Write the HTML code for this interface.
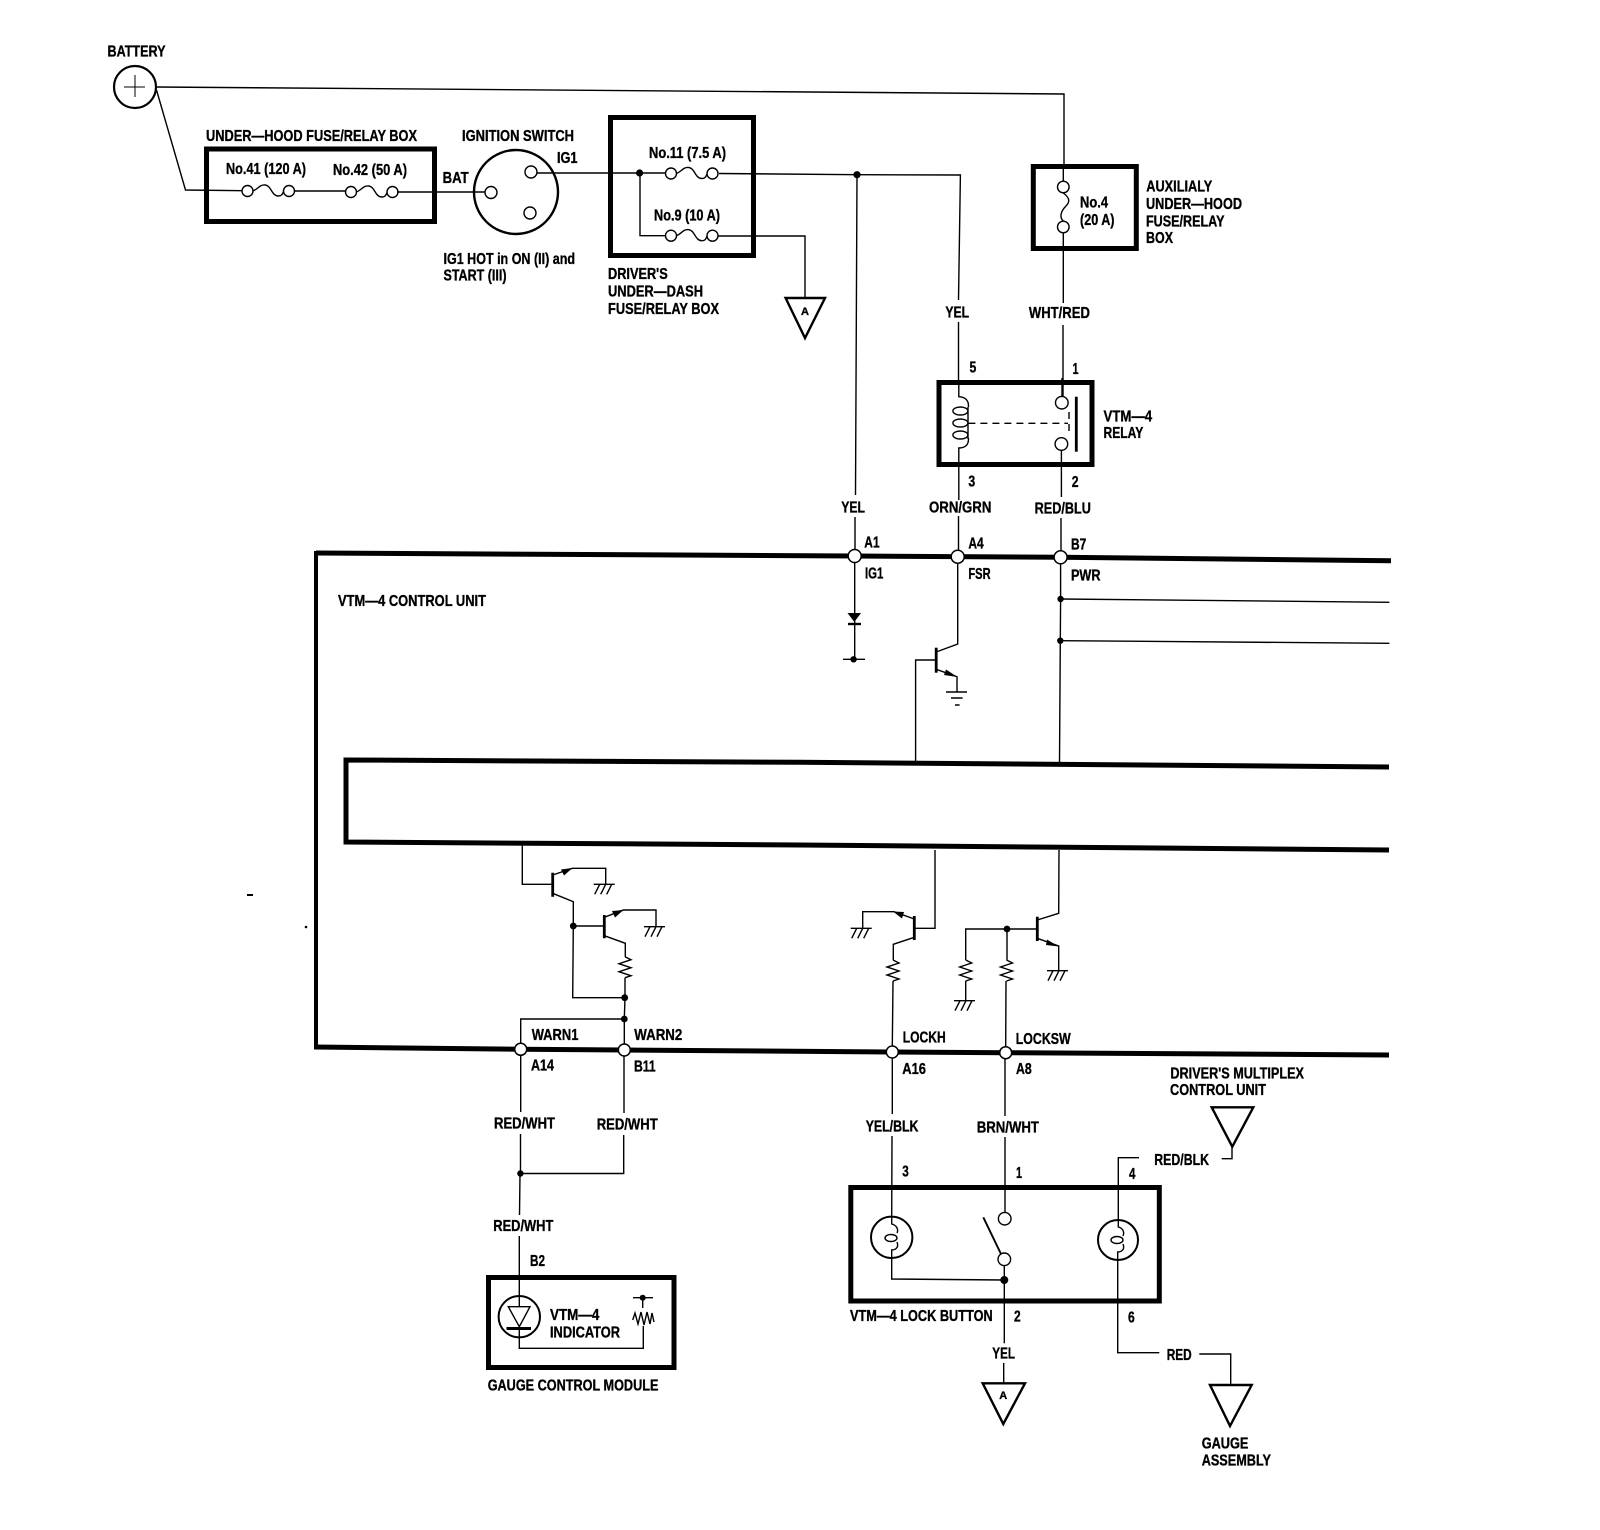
<!DOCTYPE html>
<html><head><meta charset="utf-8"><title>VTM-4 wiring diagram</title>
<style>html,body{margin:0;padding:0;background:#fff}svg{display:block}
text{font-family:"Liberation Sans",sans-serif;font-weight:bold;font-size:16px;fill:#000;stroke:#000;stroke-width:.35px}
.w{fill:none;stroke:#000;stroke-width:1.4}
.b{fill:none;stroke:#000;stroke-width:5}
.c{fill:#fff;stroke:#000;stroke-width:1.4}
.n{fill:#fff;stroke:#000;stroke-width:1.5}
.d{fill:#000}
</style></head><body>
<svg width="1600" height="1530" viewBox="0 0 1600 1530" xmlns="http://www.w3.org/2000/svg">
<defs>
<g id="f"><path class="w" d="M5,0 C10,-1 12,-7 18,-6 C24,-5 24,5 31,5 C36,5 35,0 37,0"/><circle class="c" cx="0" cy="0" r="5.5"/><circle class="c" cx="41.5" cy="0" r="5.5"/></g>
<path id="r" class="w" d="M0,0 L6,3 L-6,7 L6,11 L-6,15 L6,19 L0,21"/>
<path id="g" class="w" d="M-12,0H9M-6,0L-11,10M0,0L-5,10M6,0L1,10"/>
</defs>

<!-- battery -->
<circle cx="135" cy="87" r="21" fill="none" stroke="#000" stroke-width="2.2"/>
<path d="M124,87H145M135,75V97" fill="none" stroke="#000" stroke-width="1"/>
<path class="w" d="M156,87 L810,92 L1064,94 V165"/>
<path class="w" d="M156.5,90 L185.5,190 L242,190.7"/>

<!-- under-hood box -->
<rect class="b" x="206.5" y="149" width="228" height="72.5"/>
<use href="#f" x="247.5" y="191"/>
<use href="#f" x="351" y="192"/>
<path class="w" stroke-width="2" d="M294,191H345M397,192H485"/>

<!-- ignition switch -->
<circle cx="516" cy="192" r="42" fill="none" stroke="#000" stroke-width="2.4"/>
<circle class="c" cx="491" cy="192.5" r="6"/>
<circle class="c" cx="531" cy="172" r="6"/>
<circle class="c" cx="530" cy="213" r="6"/>

<!-- driver's box -->
<rect class="b" x="610.5" y="117.5" width="143" height="138"/>
<path class="w" d="M537,173H666M719,173.5 L857,174.7 L960.4,175 L958.5,300M958.5,322V380"/>
<circle class="d" cx="639.6" cy="173" r="3.6"/>
<path class="w" d="M640,173V235.7H665.5M718.5,236H805V298"/>
<use href="#f" x="671" y="173.5"/>
<use href="#f" x="671" y="235.7"/>

<!-- A triangle upper -->
<path d="M785.6,298H825L805,338Z" fill="none" stroke="#000" stroke-width="2.4"/>

<!-- YEL trunk -->
<circle class="d" cx="857" cy="174.7" r="3.6"/>
<path class="w" stroke-width="1.8" d="M857,175L855.5,495M855,517V550"/>

<!-- aux box -->
<rect class="b" x="1033.3" y="166.5" width="103" height="82"/>
<path class="w" d="M1063.3,165V181M1063.3,193C1070,198 1070,202 1066,206C1061,211 1059,217 1063.3,221M1063.3,233V303M1063,325V402"/>
<circle class="c" cx="1063.3" cy="187" r="5.8"/>
<circle class="c" cx="1063.3" cy="227" r="5.8"/>

<!-- relay -->
<rect class="b" x="939" y="382.5" width="153" height="82"/>
<path class="w" d="M958.8,380V396.7C965,397 969,400 968.4,407M968.4,438C969,445 965,448 958.8,448V500M958.5,516V550"/>
<ellipse class="w" cx="960.4" cy="411" rx="7.5" ry="4"/>
<ellipse class="w" cx="960.4" cy="423" rx="7.5" ry="4"/>
<ellipse class="w" cx="960.4" cy="435" rx="7.5" ry="4"/>
<path class="w" d="M968,407V439"/>
<circle class="c" cx="1061.8" cy="402.7" r="6.3"/>
<circle class="c" cx="1061.4" cy="444" r="6.3"/>
<path class="w" d="M1062,378V396M1061.4,450V497M1061,518V551"/>
<path d="M1076.3,396.7V451.7" stroke="#000" stroke-width="2.8"/>
<path class="w" stroke-dasharray="7,5" d="M968.4,423.3H1068M1069,412V436"/>

<!-- control unit frame -->
<path class="b" d="M1391,560.7 L1060.6,557.3 L855,556 L316,553"/>
<path d="M316,551V1049" stroke="#000" stroke-width="4" fill="none"/>
<path class="b" d="M314,1047 L520.7,1049.3 L624.3,1050 L892.3,1052 L1005.7,1052.7 L1389,1055"/>
<path class="b" d="M1389,767 L800,762.3 L346,760 V842 L800,845 L1389,850"/>

<!-- below IG1 -->
<path class="w" d="M854.7,562V659"/>
<path class="d" d="M847.5,613H861L854.3,622Z"/>
<path d="M848,624H861" stroke="#000" stroke-width="2.4"/>
<circle class="d" cx="853.6" cy="659.3" r="3.2"/>
<path class="w" d="M843,659.3H865"/>

<!-- FSR transistor -->
<path class="w" d="M957.7,562V644L936.2,652M936.2,669.3L957,676.7V691.7M946,692H967M951,698H962.6M955,705H959.6"/>
<path d="M936.2,647.7V672.7" stroke="#000" stroke-width="2.8"/>
<path class="d" d="M957.5,677L946,669.5L944,675Z"/>
<path class="w" stroke-width="1.8" d="M936,660H915.6V762"/>

<!-- PWR line -->
<path class="w" stroke-width="1.6" d="M1060.6,563V599L1060.3,641L1059.5,763"/>
<path class="w" d="M1060.6,599L1389.4,602.3M1060.3,640.7L1389.4,643.3"/>
<circle class="d" cx="1060.6" cy="599" r="3.2"/>
<circle class="d" cx="1060.3" cy="640.7" r="3.2"/>

<!-- warn transistors -->
<path class="w" d="M522.3,845V884.3H552.7M552.7,875L572.3,868.3H605.7V884.3M552.7,893.3L573.3,901.7V926L572.7,997.7H624.7"/>
<path d="M552.7,872.7V896.7M604.3,915V938.3" stroke="#000" stroke-width="2.8"/>
<use href="#g" x="605.7" y="884.3"/>
<path class="d" d="M572.5,868L561,869.5L564,875.5Z"/>
<path class="w" stroke-width="1.8" d="M573.3,926H604.3"/>
<circle class="d" cx="573.3" cy="926" r="3.4"/>
<path class="w" d="M604.3,917.3L623.3,910H656V926.7M604.3,935.7L625.3,943.3V956.7"/>
<use href="#g" x="656" y="926.7"/>
<path class="d" d="M623.5,910L612,911L615,917.5Z"/>
<use href="#r" x="625" y="956.7"/>
<path class="w" d="M625,977.7V997.7L624.3,1019V1044M624.3,1019H520.7V1043"/>
<circle class="d" cx="624.7" cy="997.7" r="3.4"/>
<circle class="d" cx="624.3" cy="1019" r="3.4"/>

<!-- lock H transistor -->
<path class="w" d="M935,850V928.3H914.3M914.3,919L894,911.7H862.7V928.3M914.3,937.3L893.3,944.3V960"/>
<path d="M914.3,916V940M1037.3,916.7V941" stroke="#000" stroke-width="2.8"/>
<use href="#g" x="862.7" y="928.3"/>
<path class="d" d="M893,911.5L904,912L902,918.5Z"/>
<use href="#r" x="893" y="960"/>
<path class="w" d="M893,981L892.3,1046"/>

<!-- lock sw transistor -->
<path class="w" d="M1059,850L1058.7,913.3L1037.3,920M1037.3,938.3L1058.7,946V970.7"/>
<use href="#g" x="1059" y="970.7"/>
<path class="d" d="M1058.5,946.5L1047,939.5L1046,945Z"/>
<path class="w" d="M1037,929H965.7V960M1007,929V960M965.7,981V1000.7M1006,981L1005.7,1046"/>
<use href="#r" x="965.7" y="960"/>
<use href="#r" x="1006.5" y="960"/>
<use href="#g" x="966" y="1000.7"/>
<circle class="d" cx="1007" cy="929" r="3.4"/>

<!-- connector pins -->
<circle class="n" cx="854.7" cy="556" r="6.5"/>
<circle class="n" cx="957.7" cy="556.7" r="6.5"/>
<circle class="n" cx="1060.6" cy="557.3" r="6.5"/>
<circle class="n" cx="520.7" cy="1049.3" r="6"/>
<circle class="n" cx="624.3" cy="1050" r="6"/>
<circle class="n" cx="892.3" cy="1052" r="6"/>
<circle class="n" cx="1005.7" cy="1052.7" r="6"/>

<!-- red/wht wires -->
<path class="w" d="M520.7,1055V1112M520.5,1134V1173.5M624,1056V1113M623.7,1135V1173.5H520.5"/>
<circle class="d" cx="520.4" cy="1173.5" r="3.2"/>
<path class="w" d="M520,1173.5L519.5,1215M519.3,1236V1306.7"/>

<!-- gauge box -->
<rect class="b" x="488.5" y="1277.5" width="185.5" height="90"/>
<circle cx="519.3" cy="1316.7" r="20.7" fill="none" stroke="#000" stroke-width="2"/>
<path class="w" d="M508.3,1306.7H530L519.3,1326.7ZM519.3,1328V1348.3H643.3V1326"/>
<path d="M506.5,1328.5H531" stroke="#000" stroke-width="3"/>
<path class="w" d="M632.7,1320L635,1313L638,1324L641,1312L644,1325L647,1312L650,1324L652,1313L654,1322"/>
<path class="w" stroke-width="1.8" d="M642.7,1297.7V1308M633,1297.7H653"/>
<circle class="d" cx="642.7" cy="1297.7" r="3"/>

<!-- lock button box -->
<rect class="b" x="850.8" y="1187.5" width="308.5" height="113.5"/>
<path class="w" d="M892,1136L891.7,1216.7V1224C896,1225 899,1229 897,1233M897,1242C899,1247 896,1250 891.7,1250V1279L1004.3,1280"/>
<ellipse class="w" cx="891" cy="1238" rx="6" ry="3.5"/>
<circle cx="891.7" cy="1237.3" r="20.7" fill="none" stroke="#000" stroke-width="2"/>
<path class="w" d="M1005,1058L1005,1116M1005,1137V1212.7"/>
<path class="w" d="M892.3,1058V1114"/>
<circle class="c" cx="1004.7" cy="1218.7" r="6.3"/>
<circle class="c" cx="1004.3" cy="1259.3" r="6.3"/>
<path d="M983.3,1217.3L1001,1254" stroke="#000" stroke-width="1.9"/>
<path class="w" d="M1004.3,1265.7V1343.3"/>
<circle class="d" cx="1004.3" cy="1280" r="4"/>
<path class="w" stroke-width="1.8" d="M1003.7,1363V1383"/>
<path d="M982.7,1383.3H1025L1003.3,1424Z" fill="none" stroke="#000" stroke-width="2.4"/>

<circle cx="1118" cy="1240" r="20" fill="none" stroke="#000" stroke-width="2"/>
<ellipse class="w" cx="1117" cy="1240" rx="6" ry="3.5"/>
<path class="w" d="M1139,1157.7H1118.3V1227C1122,1228 1125,1231 1123,1236M1123,1244C1125,1249 1122,1252 1117.7,1252V1352.7H1159.3M1199.3,1354H1230.7V1385"/>
<path d="M1210,1385H1251.7L1230,1426Z" fill="none" stroke="#000" stroke-width="2.4"/>
<path class="w" d="M1221.7,1158.7H1232V1146.7"/>
<path d="M1211.7,1107.3H1253.3L1232.3,1146.7Z" fill="none" stroke="#000" stroke-width="2.4"/>

<!-- stray specks -->
<path d="M247,895H253" stroke="#000" stroke-width="2"/>
<circle class="d" cx="306" cy="927" r="1.3"/>

<!-- labels -->
<text x="107.5" y="56.7" textLength="58" lengthAdjust="spacingAndGlyphs">BATTERY</text>
<text x="206" y="141" textLength="211" lengthAdjust="spacingAndGlyphs">UNDER—HOOD FUSE/RELAY BOX</text>
<text x="462" y="141" textLength="112" lengthAdjust="spacingAndGlyphs">IGNITION SWITCH</text>
<text x="226" y="174" textLength="80" lengthAdjust="spacingAndGlyphs">No.41 (120 A)</text>
<text x="333" y="175" textLength="74" lengthAdjust="spacingAndGlyphs">No.42 (50 A)</text>
<text x="442.6" y="183" textLength="26" lengthAdjust="spacingAndGlyphs">BAT</text>
<text x="557" y="163" textLength="20.5" lengthAdjust="spacingAndGlyphs">IG1</text>
<text x="649" y="158" textLength="77" lengthAdjust="spacingAndGlyphs">No.11 (7.5 A)</text>
<text x="654" y="220.7" textLength="66" lengthAdjust="spacingAndGlyphs">No.9 (10 A)</text>
<text x="443.5" y="264" textLength="131.5" lengthAdjust="spacingAndGlyphs">IG1 HOT in ON (II) and</text>
<text x="443.5" y="280.7" textLength="63" lengthAdjust="spacingAndGlyphs">START (III)</text>
<text x="608" y="279" textLength="59.7" lengthAdjust="spacingAndGlyphs">DRIVER'S</text>
<text x="608" y="296.7" textLength="95" lengthAdjust="spacingAndGlyphs">UNDER—DASH</text>
<text x="608" y="314" textLength="111" lengthAdjust="spacingAndGlyphs">FUSE/RELAY BOX</text>
<text x="801" y="315" style="font-size:11px">A</text>

<text x="1080" y="207.7" textLength="28" lengthAdjust="spacingAndGlyphs">No.4</text>
<text x="1080" y="225" textLength="34.5" lengthAdjust="spacingAndGlyphs">(20 A)</text>
<text x="1146.3" y="191.7" textLength="66" lengthAdjust="spacingAndGlyphs">AUXILIALY</text>
<text x="1146" y="209" textLength="96" lengthAdjust="spacingAndGlyphs">UNDER—HOOD</text>
<text x="1146" y="226.7" textLength="78.5" lengthAdjust="spacingAndGlyphs">FUSE/RELAY</text>
<text x="1146" y="243" textLength="27" lengthAdjust="spacingAndGlyphs">BOX</text>

<text x="945.4" y="317.7" textLength="23.7" lengthAdjust="spacingAndGlyphs">YEL</text>
<text x="1028.9" y="318" textLength="61" lengthAdjust="spacingAndGlyphs">WHT/RED</text>
<text x="969.5" y="372.7" textLength="6.8" lengthAdjust="spacingAndGlyphs">5</text>
<text x="1072.5" y="374" textLength="6" lengthAdjust="spacingAndGlyphs">1</text>
<text x="1103.5" y="421.7" textLength="48.6" lengthAdjust="spacingAndGlyphs">VTM—4</text>
<text x="1103.5" y="438" textLength="39.8" lengthAdjust="spacingAndGlyphs">RELAY</text>
<text x="968.4" y="486.7" textLength="6.8" lengthAdjust="spacingAndGlyphs">3</text>
<text x="1071.7" y="487" textLength="6.8" lengthAdjust="spacingAndGlyphs">2</text>
<text x="841.3" y="512.3" textLength="23.7" lengthAdjust="spacingAndGlyphs">YEL</text>
<text x="929" y="512.3" textLength="62.4" lengthAdjust="spacingAndGlyphs">ORN/GRN</text>
<text x="1034.6" y="513.3" textLength="56.3" lengthAdjust="spacingAndGlyphs">RED/BLU</text>
<text x="864.3" y="547.7" textLength="15.3" lengthAdjust="spacingAndGlyphs">A1</text>
<text x="968.4" y="548.3" textLength="15.3" lengthAdjust="spacingAndGlyphs">A4</text>
<text x="1071" y="549.3" textLength="15.3" lengthAdjust="spacingAndGlyphs">B7</text>
<text x="865" y="578.3" textLength="18.4" lengthAdjust="spacingAndGlyphs">IG1</text>
<text x="968.4" y="579" textLength="22.2" lengthAdjust="spacingAndGlyphs">FSR</text>
<text x="1071" y="580.7" textLength="29.5" lengthAdjust="spacingAndGlyphs">PWR</text>
<text x="338" y="606" textLength="148" lengthAdjust="spacingAndGlyphs">VTM—4 CONTROL UNIT</text>

<text x="531.7" y="1040" textLength="46.7" lengthAdjust="spacingAndGlyphs">WARN1</text>
<text x="634.3" y="1040" textLength="48" lengthAdjust="spacingAndGlyphs">WARN2</text>
<text x="531" y="1070.7" textLength="23" lengthAdjust="spacingAndGlyphs">A14</text>
<text x="634" y="1071.7" textLength="21.7" lengthAdjust="spacingAndGlyphs">B11</text>
<text x="494" y="1128.3" textLength="61" lengthAdjust="spacingAndGlyphs">RED/WHT</text>
<text x="596.7" y="1129.3" textLength="61" lengthAdjust="spacingAndGlyphs">RED/WHT</text>
<text x="493.3" y="1231" textLength="60" lengthAdjust="spacingAndGlyphs">RED/WHT</text>
<text x="530" y="1266" textLength="15" lengthAdjust="spacingAndGlyphs">B2</text>
<text x="550" y="1320" textLength="49.3" lengthAdjust="spacingAndGlyphs">VTM—4</text>
<text x="550" y="1337.3" textLength="70" lengthAdjust="spacingAndGlyphs">INDICATOR</text>
<text x="487.7" y="1390.7" textLength="170.7" lengthAdjust="spacingAndGlyphs">GAUGE CONTROL MODULE</text>

<text x="902.7" y="1042.7" textLength="43" lengthAdjust="spacingAndGlyphs">LOCKH</text>
<text x="1015.7" y="1044" textLength="55" lengthAdjust="spacingAndGlyphs">LOCKSW</text>
<text x="902.3" y="1074" textLength="23.7" lengthAdjust="spacingAndGlyphs">A16</text>
<text x="1016" y="1074" textLength="15.7" lengthAdjust="spacingAndGlyphs">A8</text>
<text x="865.7" y="1131.7" textLength="52.7" lengthAdjust="spacingAndGlyphs">YEL/BLK</text>
<text x="976.7" y="1132.7" textLength="62.3" lengthAdjust="spacingAndGlyphs">BRN/WHT</text>
<text x="902.3" y="1176.7" textLength="6.5" lengthAdjust="spacingAndGlyphs">3</text>
<text x="1016" y="1178" textLength="6" lengthAdjust="spacingAndGlyphs">1</text>
<text x="1129" y="1179" textLength="6.5" lengthAdjust="spacingAndGlyphs">4</text>
<text x="1128" y="1322.3" textLength="6.7" lengthAdjust="spacingAndGlyphs">6</text>
<text x="1014" y="1321.7" textLength="6.7" lengthAdjust="spacingAndGlyphs">2</text>
<text x="850" y="1321" textLength="142.7" lengthAdjust="spacingAndGlyphs">VTM—4 LOCK BUTTON</text>
<text x="992.3" y="1358.3" textLength="22.7" lengthAdjust="spacingAndGlyphs">YEL</text>
<text x="999.3" y="1399" style="font-size:11px">A</text>
<text x="1166.7" y="1360" textLength="25" lengthAdjust="spacingAndGlyphs">RED</text>
<text x="1154.3" y="1165" textLength="54.7" lengthAdjust="spacingAndGlyphs">RED/BLK</text>
<text x="1170.4" y="1078.6" textLength="133.6" lengthAdjust="spacingAndGlyphs">DRIVER'S MULTIPLEX</text>
<text x="1170" y="1095" textLength="96" lengthAdjust="spacingAndGlyphs">CONTROL UNIT</text>
<text x="1201.7" y="1448.3" textLength="46.7" lengthAdjust="spacingAndGlyphs">GAUGE</text>
<text x="1201.7" y="1465.7" textLength="69.3" lengthAdjust="spacingAndGlyphs">ASSEMBLY</text>
</svg>
</body></html>
